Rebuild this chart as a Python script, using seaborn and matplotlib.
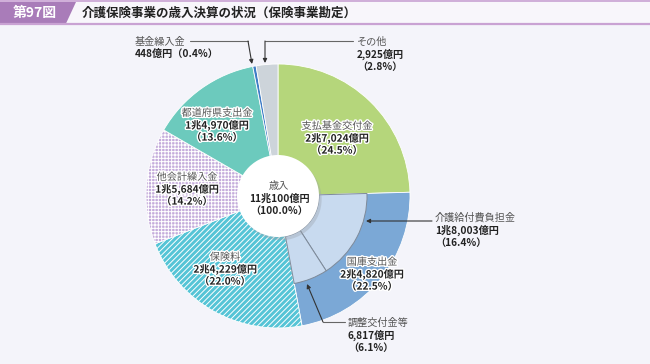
import matplotlib
matplotlib.use("Agg")
import matplotlib.pyplot as plt
import matplotlib.patheffects as pe
from matplotlib.patches import Circle, Polygon, Rectangle
import seaborn as sns

# revenue items, in 億円 (clockwise from 12 o'clock)
categories = ['支払基金交付金', '国庫支出金', '保険料', '他会計繰入金',
              '都道府県支出金', '基金繰入金', 'その他']
values = [27024, 24820, 24229, 15684, 14970, 448, 2925]
shares = [24.5, 22.5, 22.0, 14.2, 13.6, 0.4, 2.8]

# breakdown of 国庫支出金
sub_categories = ['介護給付費負担金', '調整交付金等']
sub_values = [18003, 6817]
sub_shares = [16.4, 6.1]

total_label = '歳入'
total_value = 110100
total_share = 100.0

colors = ['#B5D67B', '#7BA8D6', '#55C4D6', '#C4ACDB', '#6CCABD', '#3F7CC6', '#CDD4DA']
hatches = [None, None, '//////', '+++++', None, None, None]
sub_color = '#C8DAEF'


def oku(v):
    if v >= 10000:
        return f"{v // 10000}兆{v % 10000:,}億円"
    return f"{v:,}億円"


sns.set_theme(style='white')
plt.rcParams['font.family'] = ['Noto Sans CJK JP', 'DejaVu Sans']
plt.rcParams['hatch.linewidth'] = 0.7

W, H = 650, 364
fig = plt.figure(figsize=(W / 100, H / 100), dpi=100, facecolor='#F4F4FA')

# pie geometry in pixels
cx, cy, R = 278, 196, 132
r_sub, r_hole = 89, 41
ax_pie = fig.add_axes([(cx - R) / W, (H - cy - R) / H, 2 * R / W, 2 * R / H])

wedges, _ = ax_pie.pie(values, colors=colors, startangle=90, counterclock=False,
                       radius=1.0, wedgeprops=dict(edgecolor='white', linewidth=0.6))
for w, h in zip(wedges, hatches):
    if h:
        w.set_hatch(h)

# inner ring for 国庫支出金 breakdown
inner_vals = [values[0]] + sub_values + [sum(values) - values[0] - sum(sub_values)]
inner_cols = ['none', sub_color, sub_color, 'none']
iw, _ = ax_pie.pie(inner_vals, colors=inner_cols, startangle=90, counterclock=False,
                   radius=r_sub / R, wedgeprops=dict(width=(r_sub - r_hole) / R,
                                                     edgecolor='#7E8A99', linewidth=0.7))
iw[0].set_edgecolor('none')
iw[3].set_edgecolor('none')

ax_pie.add_patch(Circle((0.02, -0.025), r_hole / R, facecolor='#9AA0A8', alpha=0.35,
                        edgecolor='none', zorder=5))
ax_pie.add_patch(Circle((0, 0), r_hole / R, facecolor='white', edgecolor='none', zorder=6))
ax_pie.set_xlim(-1, 1)
ax_pie.set_ylim(-1, 1)
ax_pie.set_axis_off()

# overlay in pixel coordinates for title, labels and leaders
ax = fig.add_axes([0, 0, 1, 1])
ax.set_xlim(0, W)
ax.set_ylim(H, 0)
ax.set_axis_off()

ax.add_patch(Rectangle((0, 1), W, 23, facecolor='#F8F6FB', edgecolor='none'))
ax.plot([0, W], [1, 1], color='#C9A2D3', lw=1.2)
ax.plot([0, W], [24, 24], color='#C9A2D3', lw=1.6)
ax.add_patch(Polygon([(0, 2), (76, 2), (66, 23.5), (0, 23.5)], closed=True,
                     facecolor='#A97CB9', edgecolor='none'))
ax.text(35, 13, '第97図', color='white', fontsize=10, fontweight='bold',
        ha='center', va='center')
ax.text(82, 13, '介護保険事業の歳入決算の状況（保険事業勘定）', color='#222222',
        fontsize=9, fontweight='bold', ha='left', va='center')

halo = [pe.withStroke(linewidth=2, foreground='white')]
FS = 7.3
LH = 12.3


def put_lines(x, y, lines, ha='center', glow=False):
    for i, (s, bold) in enumerate(lines):
        ax.text(x, y + i * LH, s, ha=ha, va='center', fontsize=FS,
                fontweight='bold' if bold else 'normal',
                color='#222222' if bold else '#555555',
                path_effects=halo if glow else None, zorder=10)


def block(i):
    return [(categories[i], False), (oku(values[i]), True), (f"（{shares[i]:.1f}%）", True)]


# labels inside slices
put_lines(337, 126, block(0), glow=True)
put_lines(372, 262, block(1), glow=True)
put_lines(225, 257, block(2), glow=True)
put_lines(187, 177, block(3), glow=True)
put_lines(217, 113, block(4), glow=True)
put_lines(279, 186, [(total_label, False), (oku(total_value), True),
                     (f"（{total_share:.1f}%）", True)])

# labels outside with leaders
put_lines(135, 42, [(categories[5], False),
                    (f"{oku(values[5])}（{shares[5]:.1f}%）", True)], ha='left')
put_lines(357, 42, [(categories[6], False), (oku(values[6]), True),
                    (f"（{shares[6]:.1f}%）", True)], ha='left')
put_lines(435, 218, [(sub_categories[0], False), (oku(sub_values[0]), True),
                     (f"（{sub_shares[0]:.1f}%）", True)], ha='left')
put_lines(348, 323, [(sub_categories[1], False), (oku(sub_values[1]), True),
                     (f"（{sub_shares[1]:.1f}%）", True)], ha='left')

lc = '#666666'
arrow = dict(arrowstyle='-|>', color='#333333', lw=0.8, mutation_scale=6,
             shrinkA=0, shrinkB=0)
ax.plot([190, 248], [41, 41], color=lc, lw=0.8)
ax.annotate('', xy=(252, 64), xytext=(248, 41), arrowprops=arrow)
ax.plot([353, 265], [41, 41], color=lc, lw=0.8)
ax.annotate('', xy=(265, 63), xytext=(265, 41), arrowprops=arrow)
ax.annotate('', xy=(366, 221), xytext=(432, 221), arrowprops=arrow)
ax.plot([345, 323], [322, 322], color=lc, lw=0.8)
ax.annotate('', xy=(307, 284), xytext=(323, 322), arrowprops=arrow)

fig.savefig('out.png', dpi=100, facecolor=fig.get_facecolor())
